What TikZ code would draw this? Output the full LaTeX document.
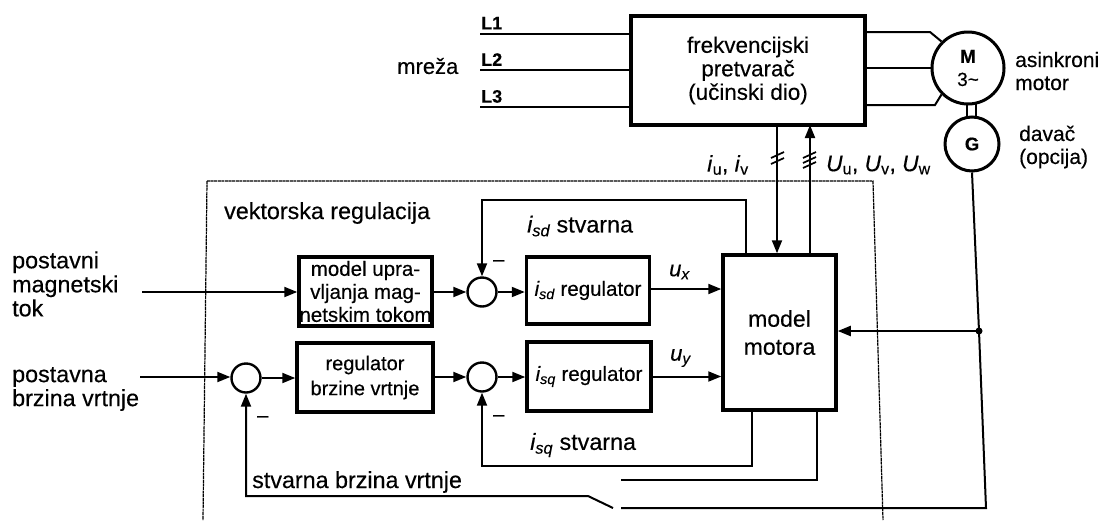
\documentclass[tikz,border=0pt]{standalone}
\usepackage{fontspec}
\setmainfont{Liberation Sans}[FakeBold=0.3]
\usetikzlibrary{arrows.meta}
\tikzset{
    blok/.style={draw, line width=3.5pt, align=center, inner sep=0pt, font=\fontsize{23}{28}\selectfont},
    malo/.style={blok, font=\fontsize{20}{25}\selectfont},
    krug/.style={draw, circle, line width=2.4pt, minimum size=29pt, inner sep=0pt},
    stroj/.style={draw, circle, line width=3pt, inner sep=0pt, align=center},
    veza/.style={line width=2pt},
    strel/.style={veza, -{Triangle[length=13pt,width=10pt]}},
    tekst/.style={anchor=west, align=left, inner sep=0pt, font=\fontsize{23.3}{24}\selectfont},
    tekstm/.style={tekst, font=\fontsize{21}{23}\selectfont},
    minus/.style={tekst, font=\fontsize{20}{20}\selectfont},
    crtica/.style={line width=1.7pt},
    okvir/.style={line width=1.2pt, dash pattern=on 3pt off 0.6pt}
}
\begin{document}
\begin{tikzpicture}[x=1pt, y=-1pt]
    \useasboundingbox (0,0) rectangle (1106,520);

    \draw[okvir] (207,181) -- (873,181) -- (883,520);
    \draw[okvir] (207,181) -- (203,520);

    \node[blok, minimum width=234pt, minimum height=109pt, font=\fontsize{22.4}{23.5}\selectfont] (pretvarac) at (748,70.5) {frekvencijski\\pretvarač\\(učinski dio)};
    \node[stroj, minimum size=72pt, font=\fontsize{19}{23}\selectfont] (motor) at (968,68) {\textbf{M}\\3\textasciitilde};
    \node[stroj, minimum size=54pt, font=\bfseries\fontsize{18.4}{20}\selectfont] (davac) at (972,144) {G};

    \node[malo, minimum width=133pt, minimum height=69pt, font=\fontsize{20.5}{23}\selectfont] (modelupr) at (365.5,291.5) {model upra-\\vljanja mag-\\netskim tokom};
    \node[malo, minimum width=136pt, minimum height=69pt] (regbrz) at (365,377.5) {regulator\\brzine vrtnje};
    \node[krug] (zbrd) at (482,292) {};
    \node[krug] (zbrq) at (482,377) {};
    \node[krug] (zbrw) at (246,378) {};
    \node[malo, minimum width=123pt, minimum height=67pt, font=\fontsize{20.5}{24}\selectfont] (regd) at (588,290.5) {\textit{i\textsubscript{sd}} regulator};
    \node[malo, minimum width=124pt, minimum height=69pt, font=\fontsize{20.5}{24}\selectfont] (regq) at (589,376.5) {\textit{i\textsubscript{sq}} regulator};
    \node[blok, minimum width=113pt, minimum height=155pt] (model) at (779.5,332.5) {model\\motora};

    % mreza
    \foreach \y/\n in {33.5/1, 70/2, 107/3}
    {
        \coordinate (L\n) at (480,\y);
        \draw[veza] (L\n) -- (L\n -| pretvarac.west);
        \node[anchor=south west, inner sep=0pt, font=\bfseries\fontsize{18}{20}\selectfont] (tL\n) at (481,\y-4) {L\n};
    }
    \node[tekst, font=\fontsize{22}{24}\selectfont] (mreza) at (397,66) {mreža};

    % motor
    \coordinate (m1) at (930,32);
    \coordinate (m3) at (935,105);
    \draw[veza] (pretvarac.east |- m1) -- (m1) -- (motor.135);
    \draw[veza] (pretvarac.east |- motor.west) -- (motor.west);
    \draw[veza] (pretvarac.east |- m3) -- (m3) -- (motor.225);
    \draw[veza] (967,103) -- (967,118);
    \draw[veza] (976,103) -- (976,118);
    \node[tekstm] (tmotor) at (1015,71) {asinkroni\\motor};
    \node[tekstm] (tdavac) at (1019,147) {davač\\(opcija)};

    % naponi i struje
    \coordinate (iuv) at (777,125);
    \coordinate (Uuvw) at (810,125);
    \draw[strel] (iuv) -- (iuv |- model.north);
    \draw[strel] (Uuvw |- model.north) -- (Uuvw);
    \foreach \y in {-3,3}
        \draw[crtica] (771,161+\y) -- (784,155+\y);
    \foreach \y in {-5,0,5}
        \draw[crtica] (803,163+\y) -- (816,157+\y);
    \node[tekst, font=\fontsize{22.7}{24}\selectfont] (tiuv) at (707,165) {\textit{i}\textsubscript{u}, \textit{i}\textsubscript{v}};
    \node[tekst, font=\fontsize{22.7}{24}\selectfont] (tUuvw) at (826,165) {\textit{U}\textsubscript{u}, \textit{U}\textsubscript{v}, \textit{U}\textsubscript{w}};

    \node[tekst] (tvekt) at (224,213) {vektorska regulacija};
    \node[tekst] (tpm) at (12,284) {postavni\\magnetski\\tok};
    \node[tekst] (tpb) at (12,389) {postavna\\brzina vrtnje};

    % gornji red
    \coordinate (ulazd) at (142,292);
    \draw[strel] (ulazd) -- (modelupr.west |- ulazd);
    \draw[strel] (modelupr.east |- zbrd) -- (zbrd.west);
    \draw[strel] (zbrd.east) -- (regd.west |- zbrd);
    \draw[strel] (regd.east |- 0,289) -- (model.west |- 0,289);
    \node[tekst, font=\fontsize{22}{24}\selectfont] (tux) at (669,272) {\textit{u\textsubscript{x}}};
    \coordinate (fbd) at (746,200);
    \draw[strel] (fbd |- model.north) -- (fbd) -| (zbrd.north);
    \node[tekst] (tisd) at (527,226) {\textit{i\textsubscript{sd}} stvarna};
    \node[minus] (md) at (493,263) {--};

    % donji red
    \coordinate (ulazq) at (140,377);
    \draw[strel] (ulazq) -- (zbrw.west |- ulazq);
    \draw[strel] (zbrw.east) -- (regbrz.west |- zbrw);
    \draw[strel] (regbrz.east |- zbrq) -- (zbrq.west);
    \draw[strel] (zbrq.east) -- (regq.west |- zbrq);
    \draw[strel] (regq.east) -- (model.west |- regq);
    \node[tekst, font=\fontsize{22}{24}\selectfont] (tuy) at (670,358) {\textit{u\textsubscript{y}}};
    \coordinate (fbq) at (752,466);
    \draw[strel] (fbq |- model.south) -- (fbq) -| (zbrq.south);
    \node[tekst] (tisq) at (530,445) {\textit{i\textsubscript{sq}} stvarna};
    \node[minus] (mq) at (493,418) {--};
    \node[minus] (mw) at (257,419) {--};

    % brzina
    \coordinate (sk1) at (588,496);
    \coordinate (sk2) at (613,508);
    \coordinate (sk3) at (621,480);
    \coordinate (sk4) at (621,508);
    \coordinate (sp1) at (817,480);
    \coordinate (sp2) at (986,508);
    \coordinate (cvor) at (979,331);
    \draw[strel] (sk2) -- (sk1) -- (sk1 -| zbrw) -- (zbrw.south);
    \draw[veza] (sk3) -- (sp1) -- (sp1 |- model.south);
    \draw[veza] (davac.south) -- (cvor) -- (sp2) -- (sk4);
    \draw[strel] (cvor) -- (model.east |- cvor);
    \fill (cvor) circle (3.5pt);
    \node[tekst] (tstv) at (252,482) {stvarna brzina vrtnje};
\end{tikzpicture}
\end{document}
